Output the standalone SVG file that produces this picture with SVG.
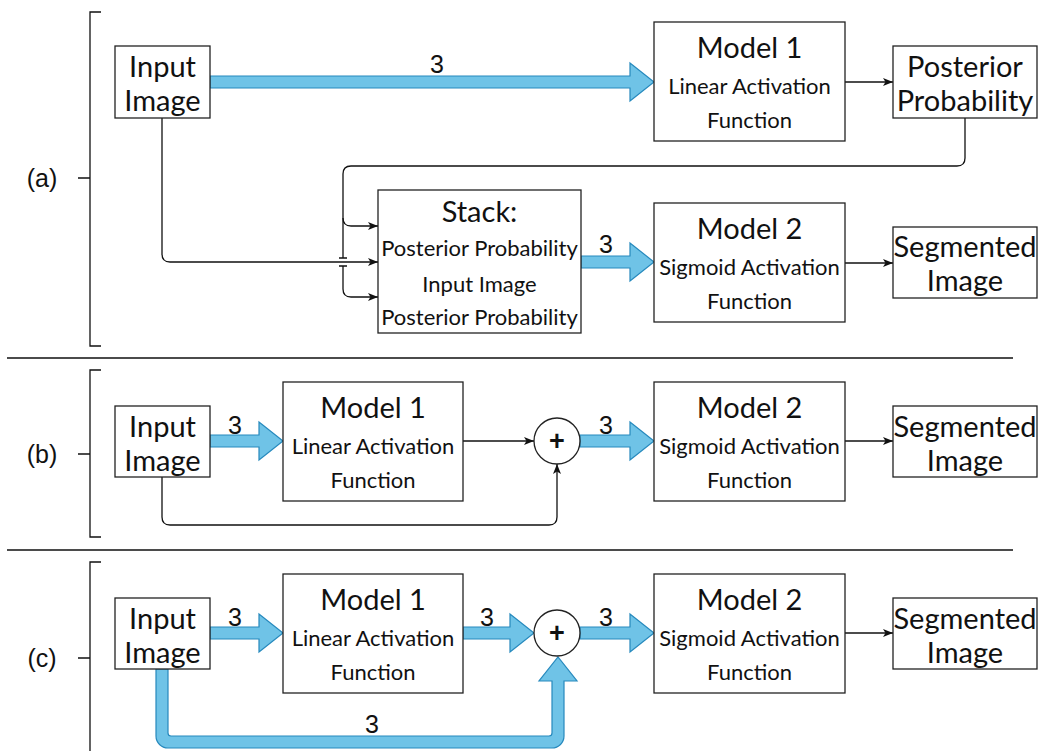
<svg xmlns="http://www.w3.org/2000/svg" width="1043" height="751" viewBox="0 0 1043 751">
  <style>
    .box { fill: #ffffff; stroke: #222222; stroke-width: 1.3; }
    .big { font-family: Lato, "Liberation Sans", sans-serif; font-size: 29px; fill: #111111; text-anchor: middle; }
    .small { font-family: Lato, "Liberation Sans", sans-serif; font-size: 22px; fill: #111111; text-anchor: middle; }
    .num { font-family: "Liberation Sans", Arial, sans-serif; font-size: 25px; fill: #111111; text-anchor: middle; }
    .lbl { font-family: "Liberation Sans", Arial, sans-serif; font-size: 25px; fill: #111111; text-anchor: middle; }
    .plus { font-family: "Liberation Sans", Arial, sans-serif; font-size: 27px; font-weight: bold; fill: #111111; text-anchor: middle; }
    .wire { fill: none; stroke: #111111; stroke-width: 1.3; }
    .arrow { fill: none; stroke: #111111; stroke-width: 1.3; marker-end: url(#head); }
    .block { fill: #6fc3e7; stroke: #2689bd; stroke-width: 1.2; stroke-linejoin: miter; }
    .frame { fill: none; stroke: #111111; stroke-width: 1.3; }
  </style>
  <defs>
    <marker id="head" viewBox="0 0 10 8" refX="10" refY="4" markerWidth="10" markerHeight="8" markerUnits="userSpaceOnUse" orient="auto">
      <path d="M0,0 L10,4 L0,8 L2.5,4 Z" fill="#111111"/>
    </marker>
  </defs>

  <!-- panel brackets, labels and separators -->
  <g id="frames">
    <path class="frame" d="M101 12 H90 V346 H101 M78 178 H90"/>
    <path class="frame" d="M101 370 H90 V537 H101 M78 454 H90"/>
    <path class="frame" d="M101 562 H90 V751 M78 658 H90"/>
    <path class="frame" d="M7 358 H1013 M7 550 H1013"/>
    <text class="lbl" x="42" y="187">(a)</text>
    <text class="lbl" x="42" y="463">(b)</text>
    <text class="lbl" x="42" y="667">(c)</text>
  </g>

  <!-- connectors -->
  <g id="connectors">
    <!-- (a) -->
    <path class="block" d="M210 76 H630 V63 L654 82 L630 101 V88 H210 Z"/>
    <text class="num" x="437" y="73">3</text>
    <path class="arrow" d="M845 82 H893"/>
    <path class="arrow" d="M162 118 V254 Q162 262 170 262 H378"/>
    <path class="arrow" d="M965 118 V158 Q965 166 957 166 H351 Q343 166 343 174 V218 Q343 226 351 226 H378"/>
    <path class="wire" d="M343 218 V258 M339 258 H347 M339 266 H347"/>
    <path class="arrow" d="M343 266 V289 Q343 297 351 297 H378"/>
    <path class="block" d="M581 256 H630 V243 L654 262 L630 281 V268 H581 Z"/>
    <text class="num" x="606" y="253">3</text>
    <path class="arrow" d="M845 263 H893"/>

    <!-- (b) -->
    <path class="block" d="M210 435 H259 V422 L283 441 L259 460 V447 H210 Z"/>
    <text class="num" x="235" y="434">3</text>
    <path class="arrow" d="M463 441 H534"/>
    <path class="arrow" d="M162 477 V517 Q162 525 170 525 H549 Q557 525 557 517 V464"/>
    <path class="block" d="M580 435 H630 V422 L654 441 L630 460 V447 H580 Z"/>
    <text class="num" x="606" y="434">3</text>
    <path class="arrow" d="M845 441 H893"/>

    <!-- (c) -->
    <path class="block" d="M210 627 H259 V614 L283 633 L259 652 V639 H210 Z"/>
    <text class="num" x="235" y="626">3</text>
    <path class="block" d="M463 627 H510 V614 L534 633 L510 652 V639 H463 Z"/>
    <text class="num" x="487" y="626">3</text>
    <path class="block" d="M580 627 H630 V614 L654 633 L630 652 V639 H580 Z"/>
    <text class="num" x="606" y="626">3</text>
    <path class="block" d="M156 669 V736 A12 12 0 0 0 168 748 H552 A12 12 0 0 0 564 736 V681 H577 L558 657 L539 681 H552 V733 A3 3 0 0 1 549 736 H171 A3 3 0 0 1 168 733 V669 Z"/>
    <text class="num" x="372" y="733">3</text>
    <path class="arrow" d="M845 633 H893"/>
  </g>

  <!-- (a) nodes -->
  <g id="a-input">
    <rect class="box" x="115" y="46" width="95" height="72"/>
    <text class="big" x="162.5" y="77">Input</text>
    <text class="big" x="162.5" y="111">Image</text>
  </g>
  <g id="a-model1">
    <rect class="box" x="654" y="22" width="191" height="119"/>
    <text class="big" x="749.5" y="58">Model 1</text>
    <text class="small" x="749.5" y="94">Linear Activation</text>
    <text class="small" x="749.5" y="128">Function</text>
  </g>
  <g id="a-posterior">
    <rect class="box" x="893" y="46" width="144" height="72"/>
    <text class="big" x="965" y="77">Posterior</text>
    <text class="big" x="965" y="111">Probability</text>
  </g>
  <g id="a-stack">
    <rect class="box" x="378" y="190" width="203" height="143"/>
    <text class="big" x="479.5" y="222">Stack:</text>
    <text class="small" x="479.5" y="256">Posterior Probability</text>
    <text class="small" x="479.5" y="292">Input Image</text>
    <text class="small" x="479.5" y="325">Posterior Probability</text>
  </g>
  <g id="a-model2">
    <rect class="box" x="654" y="203" width="191" height="119"/>
    <text class="big" x="749.5" y="239">Model 2</text>
    <text class="small" x="749.5" y="275">Sigmoid Activation</text>
    <text class="small" x="749.5" y="309">Function</text>
  </g>
  <g id="a-segmented">
    <rect class="box" x="893" y="227" width="144" height="71"/>
    <text class="big" x="965" y="257">Segmented</text>
    <text class="big" x="965" y="291">Image</text>
  </g>

  <!-- (b) nodes -->
  <g id="b-input">
    <rect class="box" x="115" y="406" width="95" height="71"/>
    <text class="big" x="162.5" y="437">Input</text>
    <text class="big" x="162.5" y="471">Image</text>
  </g>
  <g id="b-model1">
    <rect class="box" x="283" y="382" width="180" height="119"/>
    <text class="big" x="373" y="418">Model 1</text>
    <text class="small" x="373" y="454">Linear Activation</text>
    <text class="small" x="373" y="488">Function</text>
  </g>
  <g id="b-sum">
    <circle class="box" cx="557" cy="441" r="23"/>
    <text class="plus" x="557" y="450">+</text>
  </g>
  <g id="b-model2">
    <rect class="box" x="654" y="382" width="191" height="119"/>
    <text class="big" x="749.5" y="418">Model 2</text>
    <text class="small" x="749.5" y="454">Sigmoid Activation</text>
    <text class="small" x="749.5" y="488">Function</text>
  </g>
  <g id="b-segmented">
    <rect class="box" x="893" y="406" width="144" height="71"/>
    <text class="big" x="965" y="437">Segmented</text>
    <text class="big" x="965" y="471">Image</text>
  </g>

  <!-- (c) nodes -->
  <g id="c-input">
    <rect class="box" x="115" y="598" width="95" height="71"/>
    <text class="big" x="162.5" y="629">Input</text>
    <text class="big" x="162.5" y="663">Image</text>
  </g>
  <g id="c-model1">
    <rect class="box" x="283" y="574" width="180" height="119"/>
    <text class="big" x="373" y="610">Model 1</text>
    <text class="small" x="373" y="646">Linear Activation</text>
    <text class="small" x="373" y="680">Function</text>
  </g>
  <g id="c-sum">
    <circle class="box" cx="557" cy="633" r="23"/>
    <text class="plus" x="557" y="642">+</text>
  </g>
  <g id="c-model2">
    <rect class="box" x="654" y="574" width="191" height="119"/>
    <text class="big" x="749.5" y="610">Model 2</text>
    <text class="small" x="749.5" y="646">Sigmoid Activation</text>
    <text class="small" x="749.5" y="680">Function</text>
  </g>
  <g id="c-segmented">
    <rect class="box" x="893" y="598" width="144" height="71"/>
    <text class="big" x="965" y="629">Segmented</text>
    <text class="big" x="965" y="663">Image</text>
  </g>
</svg>
